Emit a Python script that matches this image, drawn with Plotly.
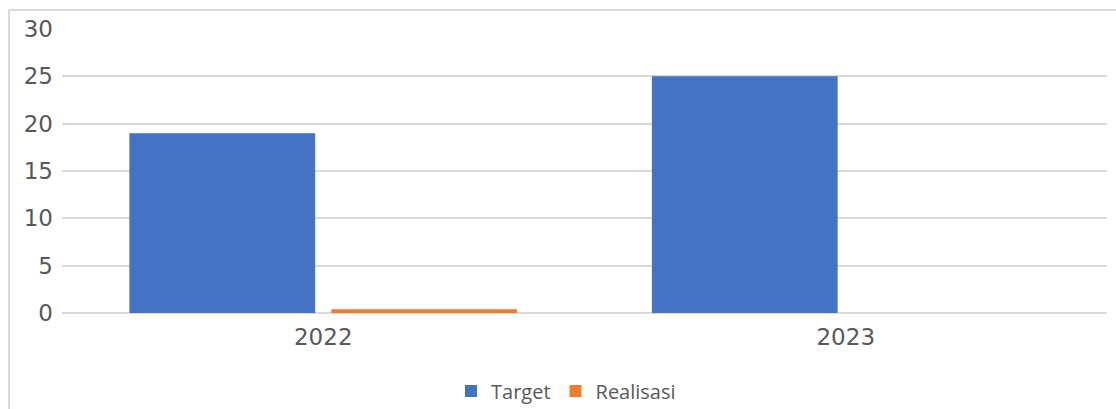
import plotly.graph_objects as go

categories = ["2022", "2023"]
target = [19, 25]
realisasi = [0.4, 0]
y_ticks = [0, 5, 10, 15, 20, 25, 30]

W, H = 1116, 409
L, R, T, B = 62, 9, 29, 96
pw, ph = W - L - R, H - T - B

def px(x):
    return (x - L) / pw

def py(y):
    return (H - B - y) / ph

fig = go.Figure()
fig.add_trace(go.Bar(name="Target", x=categories, y=target, marker_color="#4472C4", marker_line_width=0))
fig.add_trace(go.Bar(name="Realisasi", x=categories, y=realisasi, marker_color="#ED7D31", marker_line_width=0))

fig.update_layout(
    width=W, height=H,
    margin=dict(l=L, r=R, t=T, b=B, autoexpand=False),
    paper_bgcolor="white", plot_bgcolor="white",
    barmode="group", bargap=0.227, bargroupgap=0.08,
    showlegend=True,
    legend=dict(orientation="h", x=px(566), xanchor="center", y=py(391), yanchor="middle",
                font=dict(family="Open Sans", size=20, color="#595959"),
                traceorder="normal"),
    font=dict(family="DejaVu Sans", color="#595959"),
    xaxis=dict(showgrid=False, showline=False, ticks="", automargin=False,
               tickfont=dict(family="DejaVu Sans", size=23, color="#595959"),
               ticklabelstandoff=8),
    yaxis=dict(range=[0, 30], tickvals=y_ticks, showgrid=True, gridcolor="#d9d9d9", gridwidth=1.5,
               zeroline=True, zerolinecolor="#d9d9d9", zerolinewidth=1.5, automargin=False,
               tickfont=dict(family="DejaVu Sans", size=23, color="#595959"), ticks="",
               ticklabelstandoff=8),
    shapes=[
        dict(type="line", xref="paper", yref="paper", x0=px(9), x1=px(W + 5), y0=py(10), y1=py(10),
             line=dict(color="#d9d9d9", width=2)),
        dict(type="line", xref="paper", yref="paper", x0=px(9), x1=px(9), y0=py(10), y1=py(H + 5),
             line=dict(color="#d9d9d9", width=2)),
    ],
)

fig.write_html("out.html", config={"displayModeBar": False},
               post_script="document.body.style.margin='0';document.body.style.overflow='hidden';")
